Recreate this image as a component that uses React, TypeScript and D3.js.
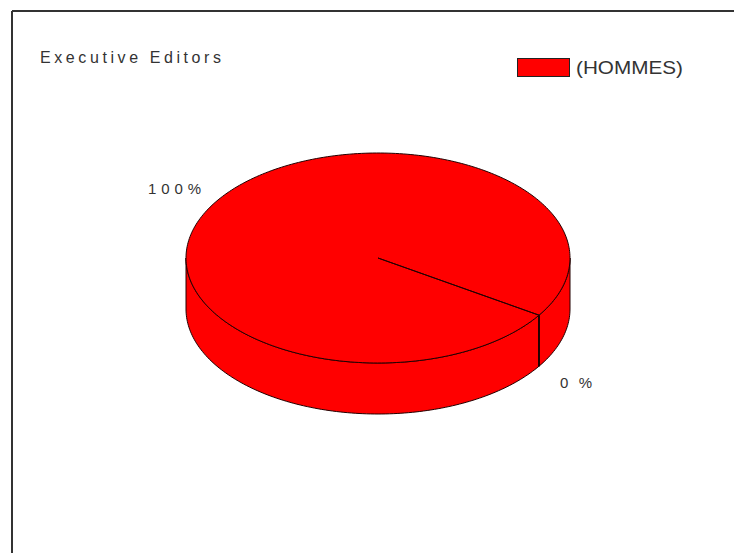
import React from "react";
import * as d3 from "d3";

const categories = ["(HOMMES)", "(FEMMES)"];
const values = [100, 0];
const percentLabels = ["100%", "0%"];
const legendCategories = ["(HOMMES)"];
const title = "Executive Editors";
const colors = ["#FF0000", "#FF0000"];

const W = 734;
const H = 553;
const cx = 378;
const cy = 258;
const rx = 192;
const ry = 105;
const depth = 51;
const startDeg = 123;

function pt(a: number, dy = 0): [number, number] {
  return [cx + rx * Math.sin(a), cy - ry * Math.cos(a) + dy];
}

function sample(a0: number, a1: number, dy = 0): [number, number][] {
  const n = Math.max(2, Math.ceil(Math.abs(a1 - a0) / 0.02));
  const s = d3.scaleLinear().domain([0, n]).range([a0, a1]);
  return d3.range(n + 1).map((i) => pt(s(i), dy));
}

export default function App() {
  const pie = d3
    .pie<number>()
    .sort(null)
    .startAngle((startDeg * Math.PI) / 180)
    .endAngle((startDeg * Math.PI) / 180 + 2 * Math.PI);
  const arcs = pie(values);
  const line = d3.line();

  const walls: { d: string; color: string }[] = [];
  const edges: [number, number][] = [];
  arcs.forEach((a, i) => {
    for (let k = -1; k <= 2; k++) {
      const f0 = Math.PI / 2 + 2 * Math.PI * k;
      const f1 = (3 * Math.PI) / 2 + 2 * Math.PI * k;
      const s0 = Math.max(a.startAngle, f0);
      const s1 = Math.min(a.endAngle, f1);
      if (s1 > s0) {
        const top = sample(s0, s1, 0);
        const bot = sample(s1, s0, depth);
        walls.push({ d: (line([...top, ...bot]) as string) + "Z", color: colors[i] });
      }
    }
    [a.startAngle, a.endAngle].forEach((ang) => {
      const c = Math.cos(ang);
      if (c < 0) edges.push(pt(ang));
    });
  });

  const tops = arcs
    .map((a, i) => {
      if (a.endAngle - a.startAngle <= 0) return null;
      const pts = sample(a.startAngle, a.endAngle, 0);
      return { d: (line([[cx, cy], ...pts]) as string) + "Z", color: colors[i] };
    })
    .filter(Boolean) as { d: string; color: string }[];

  const labels = arcs.map((a, i) => {
    const mid = (a.startAngle + a.endAngle) / 2;
    const lowerHalf = -Math.cos(mid) > 0;
    const x = cx + rx * 1.25 * Math.sin(mid);
    const y = cy - ry * 1.2 * Math.cos(mid) + (lowerHalf ? depth + 5 : 0);
    return { x, y, text: percentLabels[i] };
  });

  const font = "'Liberation Sans', Arial, sans-serif";
  return (
    <svg
      width={W}
      height={H}
      style={{ position: "absolute", left: 0, top: 0, background: "#fff" }}
    >
      <rect x={0} y={0} width={W} height={H} fill="#fff" />
      <line x1={12} y1={11} x2={W} y2={11} stroke="#333" strokeWidth={2} />
      <line x1={12} y1={11} x2={12} y2={H} stroke="#333" strokeWidth={2} />
      <text
        x={40}
        y={63}
        fontFamily={font}
        fontSize={16}
        fill="#333"
        textLength={181}
        lengthAdjust="spacing"
      >
        {title}
      </text>
      {legendCategories.map((c, i) => (
        <g key={c}>
          <rect x={517.5} y={58.5} width={52} height={18} fill={colors[i]} stroke="#222" strokeWidth={1} />
          <text x={576} y={74} fontFamily={font} fontSize={18} fill="#333" textLength={107} lengthAdjust="spacingAndGlyphs">
            {c}
          </text>
        </g>
      ))}
      {walls.map((w, i) => (
        <path key={"w" + i} d={w.d} fill={w.color} stroke="#200" strokeWidth={1} strokeLinejoin="round" />
      ))}
      {edges.map((p, i) => (
        <line key={"e" + i} x1={p[0]} y1={p[1]} x2={p[0]} y2={p[1] + depth} stroke="#200" strokeWidth={1} />
      ))}
      {tops.map((t, i) => (
        <path key={"t" + i} d={t.d} fill={t.color} stroke="#200" strokeWidth={1} strokeLinejoin="round" />
      ))}
      {labels.map((l, i) => (
        <text
          key={"l" + i}
          x={i === 0 ? 148 : 560}
          y={l.y + 5}
          fontFamily={font}
          fontSize={15}
          fill="#333"
          textLength={i === 0 ? 53 : 32}
          lengthAdjust="spacing"
        >
          {l.text}
        </text>
      ))}
    </svg>
  );
}
